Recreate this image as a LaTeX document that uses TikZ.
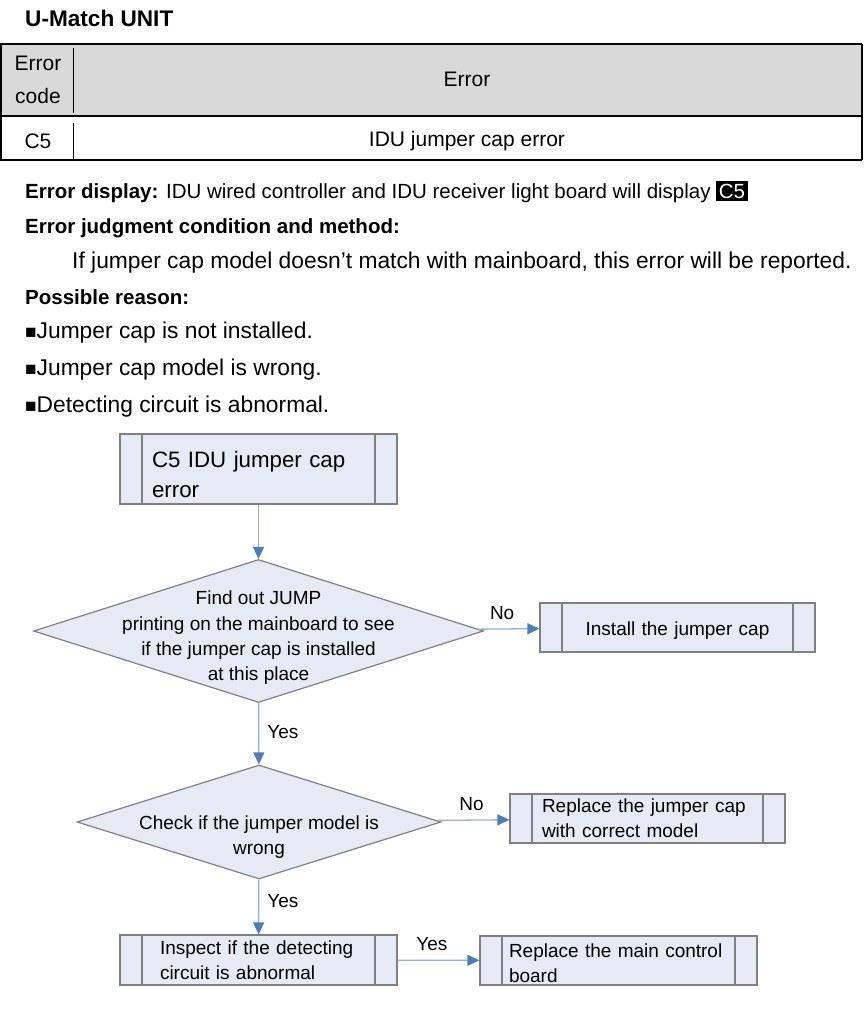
\documentclass[tikz,border=0pt]{standalone}
\usepackage{fontspec}
\setmainfont{Liberation Sans}
\usetikzlibrary{shapes.geometric,arrows.meta}
\definecolor{boxfill}{RGB}{230,234,244}
\definecolor{boxline}{RGB}{128,128,128}
\definecolor{flowline}{RGB}{149,179,215}
\definecolor{flowhead}{RGB}{74,126,187}
\definecolor{headgray}{RGB}{217,217,217}
\newcommand{\fsz}[2]{\fontsize{#1}{#2}\selectfont}
\newcommand{\sqbullet}{{\fsz{19}{19}■}}
\setlength{\fboxsep}{2.5pt}

\begin{document}
\begin{tikzpicture}
  \tikzset{x=1pt, y=-1pt}
  \tikzstyle{txt}=[anchor=west, inner sep=0pt]
  \tikzstyle{cell}=[inner sep=0pt, font=\fsz{21}{32}]
  \tikzstyle{proc}=[rectangle, draw=boxline, fill=boxfill, line width=1.2pt, inner ysep=0pt, font=\fsz{19}{25}, align=left,
    path picture={\draw[boxline, line width=1.2pt]
      ([xshift=22pt]path picture bounding box.north west) -- ([xshift=22pt]path picture bounding box.south west)
      ([xshift=-22pt]path picture bounding box.north east) -- ([xshift=-22pt]path picture bounding box.south east);}]
  \tikzstyle{decide}=[diamond, draw=boxline, fill=boxfill, line width=1.2pt, inner sep=0pt]
  \tikzstyle{flow}=[draw=flowline, line width=1.3pt, -{Triangle[length=12pt, width=11pt, color=flowhead]}]
  \tikzstyle{tag}=[font=\fsz{19}{23}, inner sep=0pt]

  \useasboundingbox (0,0) rectangle (868,1010);

  % heading and table
  \draw (25,18)   node[txt, font=\bfseries\fsz{22.6}{27}] (title) {U-Match UNIT};
  \fill[headgray] (1,44) rectangle (862,116);
  \draw[line width=1.2pt] (0,44) -- (862,44);
  \draw[line width=2pt]   (0,116) -- (862,116);
  \draw[line width=1.5pt] (0,160) -- (862,160);
  \draw[line width=1.2pt] (1,44) -- (1,160) (862,44) -- (862,160);
  \draw[line width=1pt]   (73,48) -- (73,113) (73,123) -- (73,160);

  \draw (38,63)   node[cell] (hcode)  {Error};
  \draw (38,96)   node[cell] (hcode2) {code};
  \draw (467,79)  node[cell] (herr)   {Error};
  \draw (38,141)  node[cell] (code)   {C5};
  \draw (467,141) node[cell] (err)    {IDU jumper cap error};

  % description
  \draw (25,192)  node[txt, font=\fsz{20.5}{25}] (display)
        {\textbf{Error display:} IDU wired controller and IDU receiver light board will display \colorbox{black}{\textcolor{white}{C5}}};
  \draw (25,228)  node[txt, font=\bfseries\fsz{20.5}{25}] (judge) {Error judgment condition and method:};
  \draw (72,263)  node[txt, font=\fsz{22.8}{27}] (method)
        {If jumper cap model doesn’t match with mainboard, this error will be reported.};
  \draw (25,297)  node[txt, font=\bfseries\fsz{20.5}{25}] (reason) {Possible reason:};
  \draw (25,333)  node[txt, font=\fsz{22.8}{27}] (r1) {\sqbullet Jumper cap is not installed.};
  \draw (25,370)  node[txt, font=\fsz{22.8}{27}] (r2) {\sqbullet Jumper cap model is wrong.};
  \draw (25,407)  node[txt, font=\fsz{22.8}{27}] (r3) {\sqbullet Detecting circuit is abnormal.};

  % flow chart
  \draw (258.5,469) node[proc, minimum width=277, minimum height=70, text width=213, inner xsep=32, font=\fsz{22.3}{30}] (start)
        {\rule{0pt}{28pt}C5 IDU jumper cap\\error};
  \draw (258.5,631) node[decide, minimum width=450, minimum height=143,
        label={[align=center, font=\fsz{19}{25.3}, yshift=-7pt]center:Find out JUMP\\printing on the mainboard to see\\if the jumper cap is installed\\at this place}] (fitted) {};
  \draw (677.5,627.5) node[proc, minimum width=275, minimum height=49, text width=211, inner xsep=32, align=center] (install)
        {\rule{0pt}{20pt}Install the jumper cap};
  \draw (259,822) node[decide, minimum width=364, minimum height=114,
        label={[align=center, font=\fsz{19}{25}, yshift=-15pt]center:Check if the jumper model is\\wrong}] (model) {};
  \draw (647.5,818.5) node[proc, minimum width=275, minimum height=49, text width=211, inner xsep=32] (swap)
        {Replace the jumper cap\\with correct model};
  \draw (258.5,960) node[proc, minimum width=277, minimum height=50, text width=197, inner xsep=40] (inspect)
        {Inspect if the detecting\\circuit is abnormal};
  \draw (618.5,960.5) node[proc, minimum width=277, minimum height=49, text width=219, inner xsep=29] (board)
        {\rule{0pt}{20pt}Replace the main control\\board};

  \draw[flow] (start) -- (fitted);
  \draw[flow] (fitted) -- node[tag, above=9pt, pos=0.39] (no1) {No} (install);
  \draw[flow] (fitted) -- node[tag, right=8pt, pos=0.47] (yes1) {Yes} (model);
  \draw[flow] (model) -- node[tag, above=9pt, pos=0.48] (no2) {No} (swap);
  \draw[flow] (model) -- node[tag, right=8pt, pos=0.39] (yes2) {Yes} (inspect);
  \draw[flow] (inspect) -- node[tag, above=9pt, pos=0.42] (yes3) {Yes} (board);
\end{tikzpicture}
\end{document}
